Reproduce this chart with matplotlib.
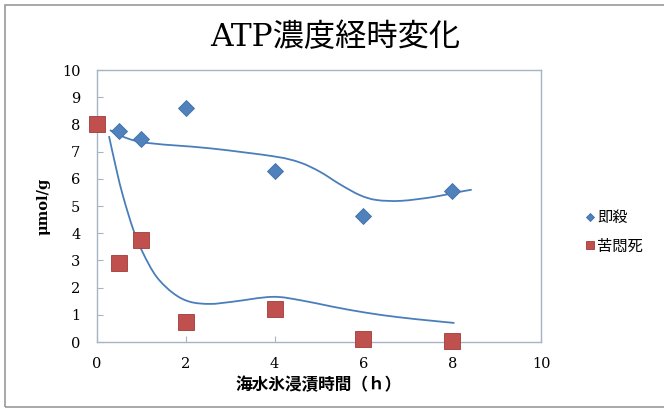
import numpy as np
import matplotlib
matplotlib.use("Agg")
import matplotlib.pyplot as plt
from matplotlib.patches import Rectangle, PathPatch
from matplotlib.path import Path

# ATP concentration over time in seawater-ice storage
hours_sokusatsu = [0.5, 1, 2, 4, 6, 8]
atp_sokusatsu = [7.75, 7.45, 8.6, 6.3, 4.65, 5.55]

hours_kumonshi = [0, 0.5, 1, 2, 4, 6, 8]
atp_kumonshi = [8.0, 2.9, 3.75, 0.72, 1.22, 0.12, 0.05]

# smoothed trend curves (control points of each fitted line)
trend_hours_sokusatsu = [0.29, 0.97, 2.55, 4.0, 4.57, 5.02, 5.47, 5.92, 6.3, 6.85,
                         7.57, 8.03, 8.44]
trend_atp_sokusatsu = [7.79, 7.36, 7.12, 6.82, 6.6, 6.26, 5.8, 5.4, 5.22, 5.19,
                       5.33, 5.48, 5.6]

trend_hours_kumonshi = [0.27, 0.44, 0.59, 0.82, 1.04, 1.34, 1.72, 2.09, 2.55, 3.05,
                        3.95, 4.6, 5.3, 6.05, 6.8, 7.55, 8.05]
trend_atp_kumonshi = [7.57, 6.32, 5.34, 4.12, 3.26, 2.4, 1.79, 1.48, 1.4, 1.48,
                      1.66, 1.53, 1.3, 1.08, 0.91, 0.78, 0.7]

x_ticks = [0, 2, 4, 6, 8, 10]
y_ticks = list(range(0, 11))

title = "ATP濃度経時変化"
x_label = "海水氷浸漬時間（ｈ）"
y_label = "μmol/g"
legend_labels = ["即殺", "苦悶死"]

BLUE = "#4F81BD"
RED = "#C0504D"
TREND = "#4A7EBB"
SPINE = "#A8B4C4"

serif = ["DejaVu Serif", "Noto Sans CJK JP"]
sans = ["Noto Sans CJK JP", "DejaVu Sans"]


def smooth_path(xs, ys, tension=1 / 6):
    """Catmull-Rom style Bezier path through the given points."""
    pts = np.column_stack([xs, ys]).astype(float)
    n = len(pts)
    verts = [pts[0]]
    codes = [Path.MOVETO]
    for i in range(n - 1):
        p0 = pts[i - 1] if i > 0 else pts[i]
        p1 = pts[i]
        p2 = pts[i + 1]
        p3 = pts[i + 2] if i + 2 < n else pts[i + 1]
        c1 = p1 + (p2 - p0) * tension
        c2 = p2 - (p3 - p1) * tension
        verts += [c1, c2, p2]
        codes += [Path.CURVE4] * 3
    return Path(verts, codes)


W, H = 664, 411
fig = plt.figure(figsize=(W / 100, H / 100), dpi=100)
fig.patch.set_facecolor("white")
fig.patches.append(Rectangle((5 / W, 4 / H), 1.2, (H - 9) / H, transform=fig.transFigure,
                             fill=False, edgecolor="#9A9A9A", linewidth=1.2))

ax = fig.add_axes([97 / W, 69 / H, (541 - 97) / W, (342 - 70) / H])

for tx, ty in [(trend_hours_sokusatsu, trend_atp_sokusatsu),
               (trend_hours_kumonshi, trend_atp_kumonshi)]:
    ax.add_patch(PathPatch(smooth_path(tx, ty), fill=False, edgecolor=TREND,
                           linewidth=1.3, zorder=2))

ax.plot(hours_sokusatsu, atp_sokusatsu, linestyle="none", marker="D", ms=8,
        color=BLUE, markeredgecolor="#3F6FA8", markeredgewidth=0.6,
        label=legend_labels[0], zorder=3)
ax.plot(hours_kumonshi, atp_kumonshi, linestyle="none", marker="s", ms=11,
        color=RED, markeredgecolor="#A03A38", markeredgewidth=0.6, clip_on=False,
        label=legend_labels[1], zorder=3)

ax.set_xlim(0, 10)
ax.set_ylim(0, 10)
ax.set_xticks(x_ticks)
ax.set_yticks(y_ticks)
ax.tick_params(direction="in", length=4, color=SPINE, labelsize=10.5)
ax.tick_params(axis="y", pad=12)
ax.tick_params(axis="x", pad=11)
for lab in ax.get_xticklabels() + ax.get_yticklabels():
    lab.set_family(serif)
for s in ax.spines.values():
    s.set_color(SPINE)
    s.set_linewidth(1.0)

ax.set_xlabel(x_label, family=serif, fontsize=12, fontweight="bold", labelpad=4)
ax.set_ylabel(y_label, family=serif, fontsize=10.5, fontweight="bold", labelpad=8)

fig.text(335 / W, 1 - 38 / H, title, family=serif, fontsize=22.5, ha="center", va="center")

fig.legend(loc="center left", bbox_to_anchor=(579 / W, 1 - 232 / H), frameon=False,
           prop={"family": sans, "size": 11}, markerscale=0.55, handlelength=0.6,
           handletextpad=0.2, labelspacing=0.75, borderaxespad=0)

plt.savefig("out.png", dpi=100)
